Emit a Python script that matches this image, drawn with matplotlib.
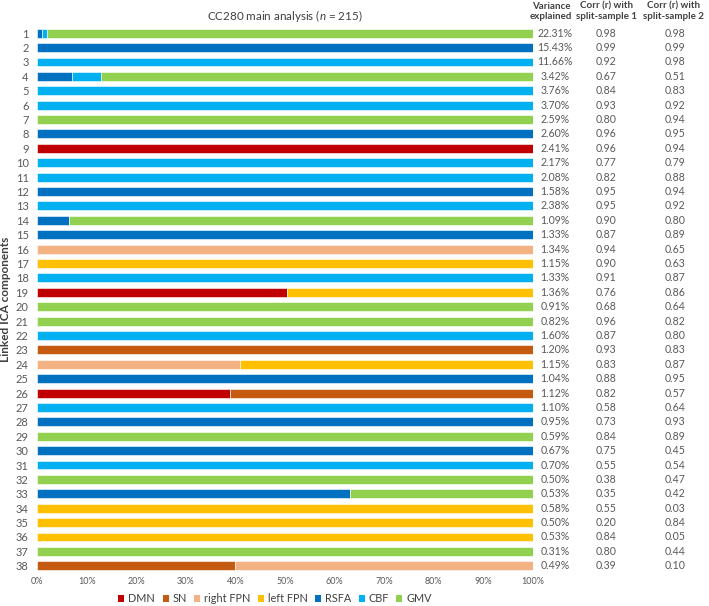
import matplotlib
matplotlib.use("Agg")
import matplotlib.pyplot as plt
from matplotlib.patches import Patch
from matplotlib.transforms import blended_transform_factory
import numpy as np

plt.rcParams['font.family'] = ['Lato', 'DejaVu Sans']
plt.rcParams['mathtext.fontset'] = 'custom'
plt.rcParams['mathtext.rm'] = 'Lato'
plt.rcParams['mathtext.it'] = 'Lato:italic'

# ---------------------------
# Data
# ---------------------------
components = list(range(1, 39))

networks = ["DMN", "SN", "right FPN", "left FPN", "RSFA", "CBF", "GMV"]
colors = ["#C00000", "#C55A11", "#F4B183", "#FFC000", "#0070C0", "#00B0F0", "#92D050"]

# percent contribution of each network, rows 1..38
dmn = [0, 0, 0, 0, 0, 0, 0, 0, 100, 0, 0, 0, 0, 0, 0, 0, 0, 0, 50.5, 0,
       0, 0, 0, 0, 0, 39, 0, 0, 0, 0, 0, 0, 0, 0, 0, 0, 0, 0]
sn = [0, 0, 0, 0, 0, 0, 0, 0, 0, 0, 0, 0, 0, 0, 0, 0, 0, 0, 0, 0,
      0, 0, 100, 0, 0, 61, 0, 0, 0, 0, 0, 0, 0, 0, 0, 0, 0, 40]
right_fpn = [0, 0, 0, 0, 0, 0, 0, 0, 0, 0, 0, 0, 0, 0, 0, 100, 0, 0, 0, 0,
             0, 0, 0, 41, 0, 0, 0, 0, 0, 0, 0, 0, 0, 0, 0, 0, 0, 60]
left_fpn = [0, 0, 0, 0, 0, 0, 0, 0, 0, 0, 0, 0, 0, 0, 0, 0, 100, 0, 49.5, 0,
            0, 0, 0, 59, 0, 0, 0, 0, 0, 0, 0, 0, 0, 100, 100, 100, 0, 0]
rsfa = [1, 100, 0, 7, 0, 0, 0, 100, 0, 0, 0, 100, 0, 6.5, 100, 0, 0, 0, 0, 0,
        0, 0, 0, 0, 100, 0, 0, 100, 0, 100, 0, 0, 63, 0, 0, 0, 0, 0]
cbf = [1, 0, 100, 6, 100, 100, 0, 0, 0, 100, 100, 0, 100, 0, 0, 0, 0, 100, 0, 0,
       0, 100, 0, 0, 0, 0, 100, 0, 0, 0, 100, 0, 0, 0, 0, 0, 0, 0]
gmv = [98, 0, 0, 87, 0, 0, 100, 0, 0, 0, 0, 0, 0, 93.5, 0, 0, 0, 0, 0, 100,
       100, 0, 0, 0, 0, 0, 0, 0, 100, 0, 0, 100, 37, 0, 0, 0, 100, 0]

variance = [22.31, 15.43, 11.66, 3.42, 3.76, 3.70, 2.59, 2.60, 2.41, 2.17,
            2.08, 1.58, 2.38, 1.09, 1.33, 1.34, 1.15, 1.33, 1.36, 0.91,
            0.82, 1.60, 1.20, 1.15, 1.04, 1.12, 1.10, 0.95, 0.59, 0.67,
            0.70, 0.50, 0.53, 0.58, 0.50, 0.53, 0.31, 0.49]
corr1 = [0.98, 0.99, 0.92, 0.67, 0.84, 0.93, 0.80, 0.96, 0.96, 0.77,
         0.82, 0.95, 0.95, 0.90, 0.87, 0.94, 0.90, 0.91, 0.76, 0.68,
         0.96, 0.87, 0.93, 0.83, 0.88, 0.82, 0.58, 0.73, 0.84, 0.75,
         0.55, 0.38, 0.35, 0.55, 0.20, 0.84, 0.80, 0.39]
corr2 = [0.98, 0.99, 0.98, 0.51, 0.83, 0.92, 0.94, 0.95, 0.94, 0.79,
         0.88, 0.94, 0.92, 0.80, 0.89, 0.65, 0.63, 0.87, 0.86, 0.64,
         0.82, 0.80, 0.83, 0.87, 0.95, 0.57, 0.64, 0.93, 0.89, 0.45,
         0.54, 0.47, 0.42, 0.03, 0.84, 0.05, 0.44, 0.10]

series = [dmn, sn, right_fpn, left_fpn, rsfa, cbf, gmv]

# ---------------------------
# Plot
# ---------------------------
TXT = "#404040"
VAL = "#595959"

fig = plt.figure(figsize=(7.09, 6.06), dpi=100)
ax = fig.add_axes([0.0522, 0.0545, 0.6996, 0.9026])

y = np.array(components)
left = np.zeros(len(components))
for name, vals, col in zip(networks, series, colors):
    vals = np.array(vals, dtype=float)
    ax.barh(y, vals, left=left, height=0.62, color=col, edgecolor='white', linewidth=0.4)
    left += vals

ax.set_xlim(0, 100)
ax.set_ylim(38.5, 0.5)
ax.set_xticks(np.arange(0, 101, 10))
ax.set_xticklabels([f"{v}%" for v in range(0, 101, 10)], fontsize=6.5, color=VAL)
ax.set_yticks(y)
ax.set_yticklabels([str(c) for c in components], fontsize=8, color=VAL)
ax.tick_params(axis='both', length=0)
ax.tick_params(axis='x', pad=3)
ax.tick_params(axis='y', pad=6)
for s in ax.spines.values():
    s.set_visible(False)
ax.set_ylabel("Linked ICA components", fontsize=8.5, fontweight='bold', color=TXT, labelpad=3)

# title and table headers
fig.text(0.402, 0.974, "CC280 main analysis ($\\mathit{n}$ = 215)", ha='center', va='center',
         fontsize=8.4, color=TXT)
col_x = [0.783, 0.855, 0.952]
head_x = [0.777, 0.855, 0.950]
headers = ["Variance\nexplained", "Corr (r) with\nsplit-sample 1", "Corr (r) with\nsplit-sample 2"]
for hx, h in zip(head_x, headers):
    fig.text(hx, 0.981, h, ha='center', va='center', fontsize=7.0, fontweight='bold',
             color=TXT, linespacing=1.25)

# table values
trans = blended_transform_factory(fig.transFigure, ax.transData)
for i, c in enumerate(components):
    ax.text(col_x[0], c, f"{variance[i]:.2f}%", transform=trans, ha='center', va='center',
            fontsize=7.6, color=VAL, clip_on=False)
    ax.text(col_x[1], c, f"{corr1[i]:.2f}", transform=trans, ha='center', va='center',
            fontsize=7.6, color=VAL, clip_on=False)
    ax.text(col_x[2], c, f"{corr2[i]:.2f}", transform=trans, ha='center', va='center',
            fontsize=7.6, color=VAL, clip_on=False)

# legend
handles = [Patch(facecolor=col, edgecolor='none', label=n) for n, col in zip(networks, colors)]
fig.legend(handles=handles, loc='center', bbox_to_anchor=(0.388, 0.012), ncol=7,
           frameon=False, fontsize=7.8, handlelength=0.55, handleheight=0.55,
           handletextpad=0.35, columnspacing=0.7, labelcolor=TXT)

fig.savefig("out.png", dpi=100)
